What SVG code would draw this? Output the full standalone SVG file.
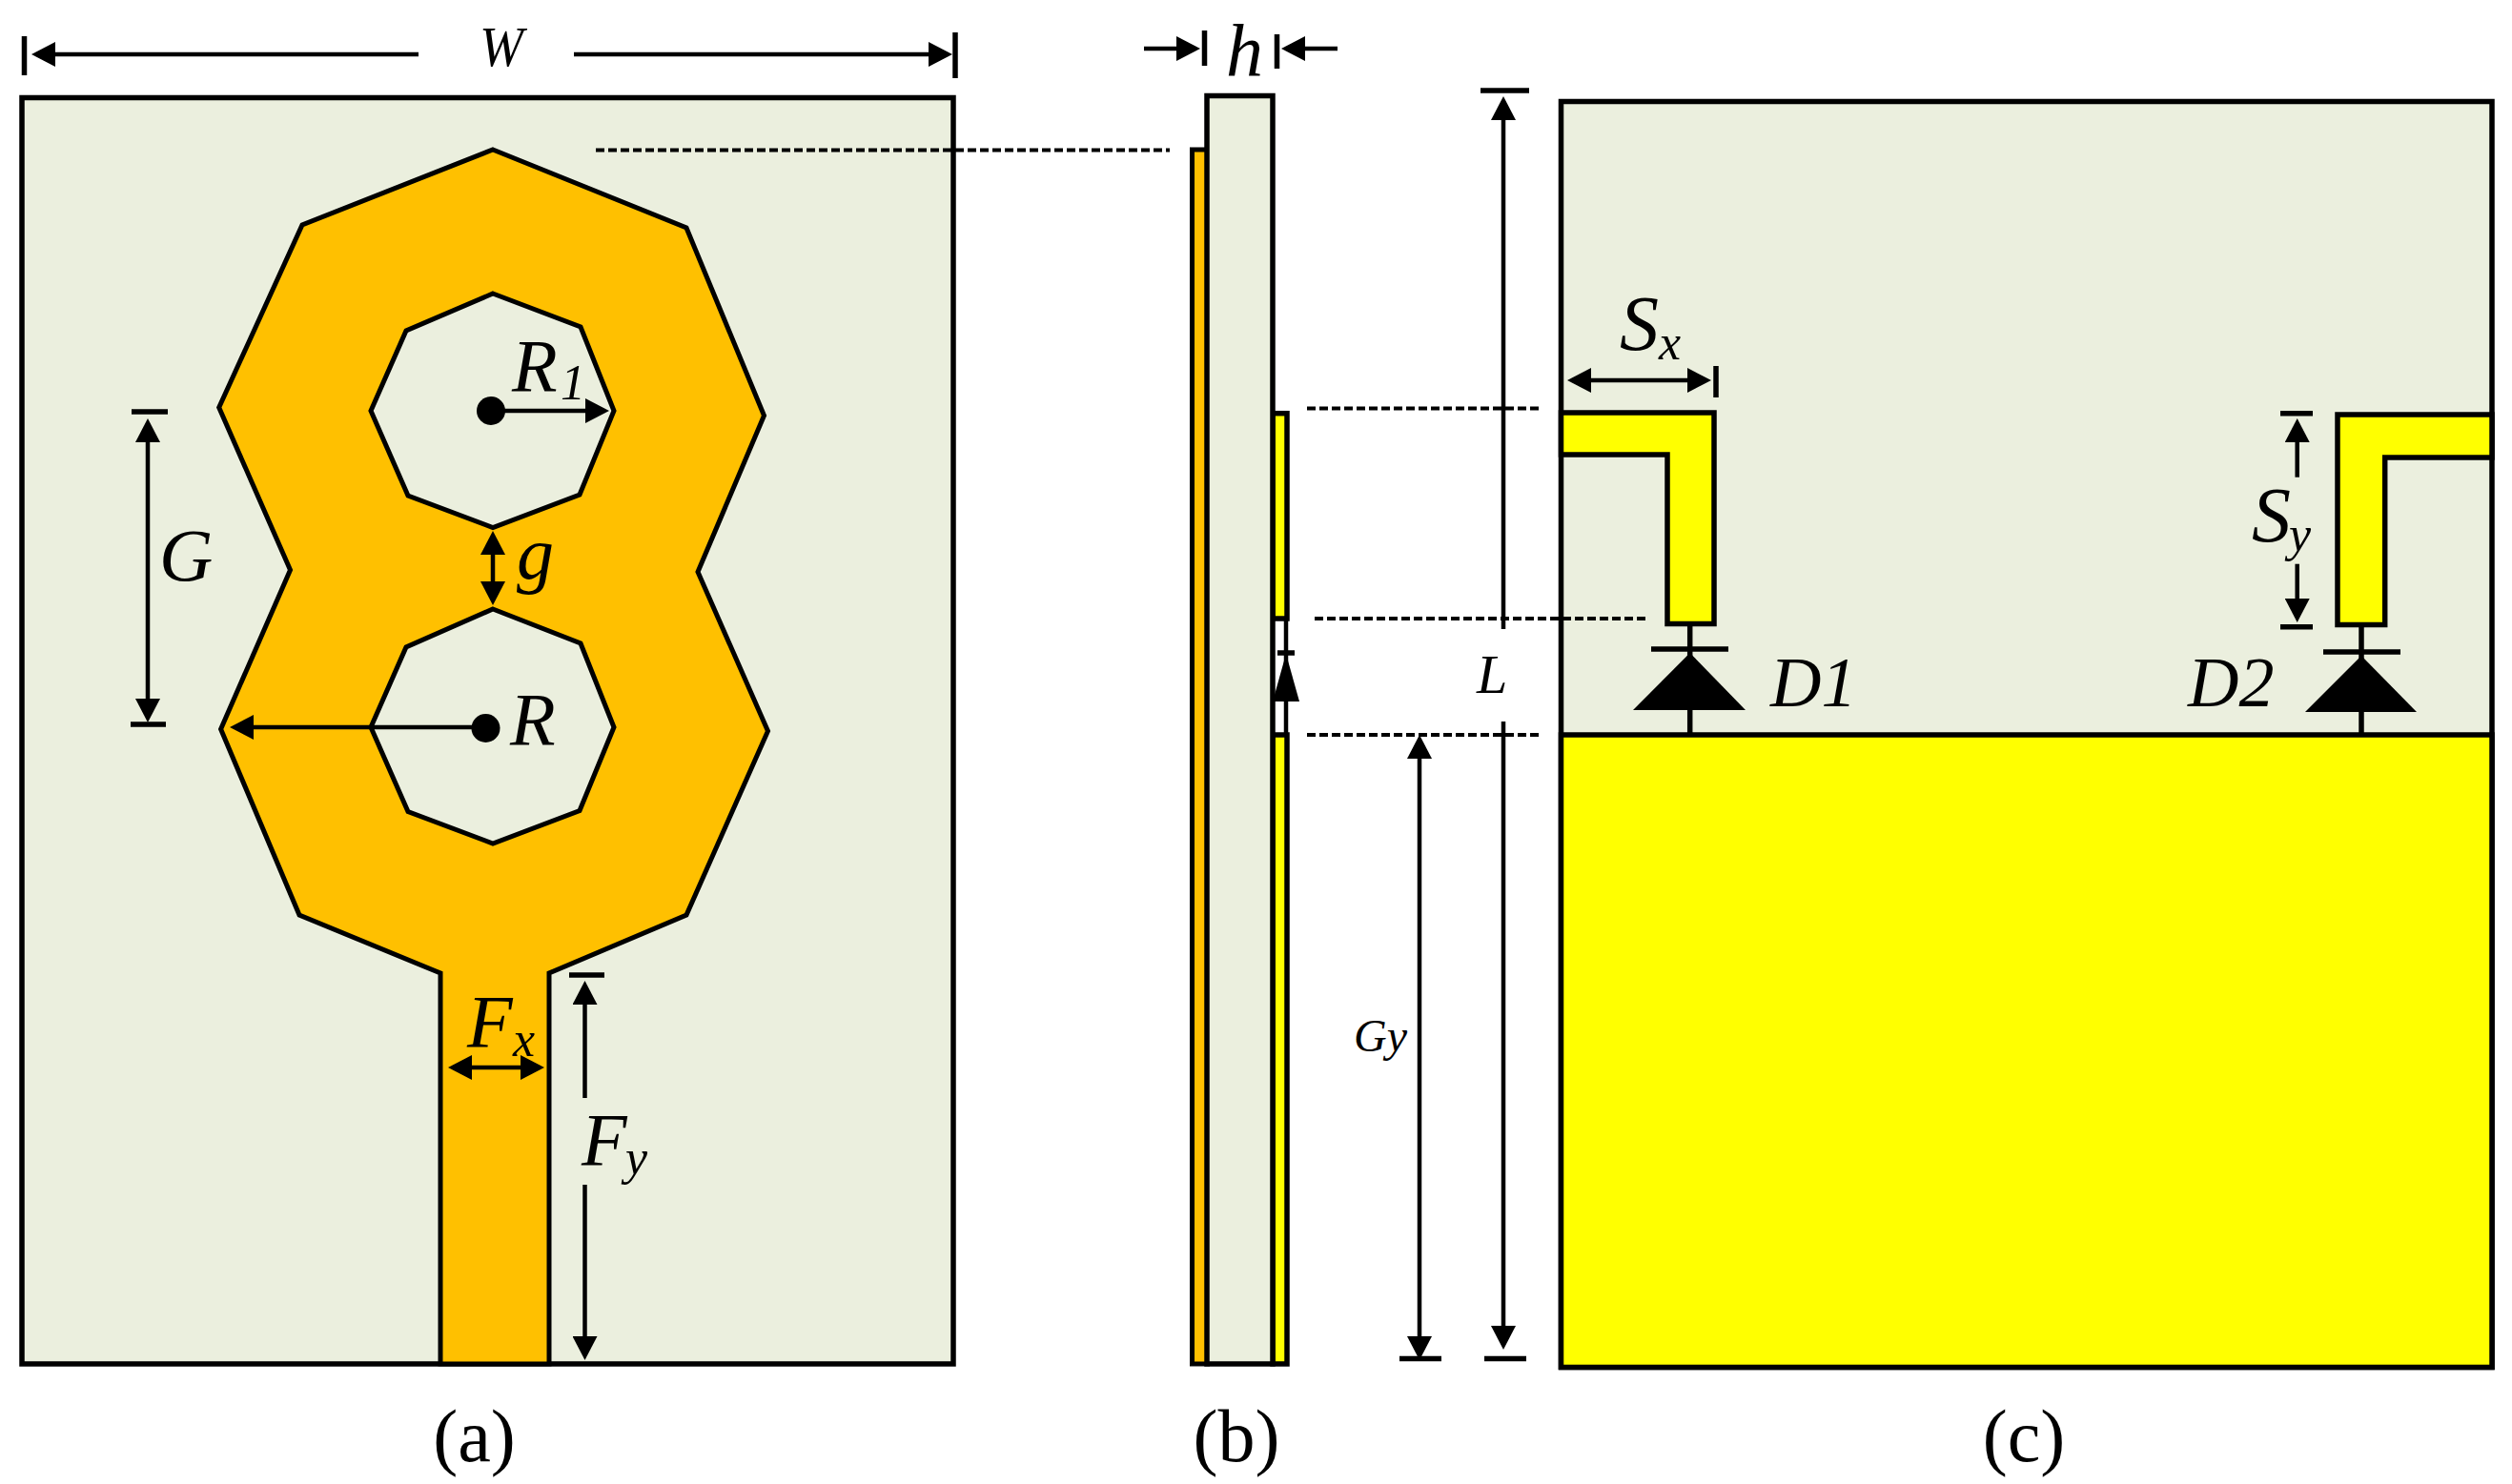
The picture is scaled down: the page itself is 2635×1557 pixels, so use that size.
<svg xmlns="http://www.w3.org/2000/svg" width="2635" height="1557" viewBox="0 0 2635 1557">
<style>
text{font-family:"Liberation Serif","Times New Roman",serif;fill:#000}
.i{font-style:italic}
.b{font-size:78px}
.s{font-size:52px}
.sub{fill:#EBEFDE;stroke:#000;stroke-width:5.500}
.or{fill:#FFC000;stroke:#000;stroke-width:5;stroke-linejoin:miter}
.ye{fill:#FFFF00;stroke:#000;stroke-width:5.500}
.hole{fill:#EBEFDE;stroke:#000;stroke-width:5}
.l{stroke:#000;stroke-width:4.500;fill:none}
.t{stroke:#000;stroke-width:5.500;fill:none}
.d{stroke:#000;stroke-width:4;fill:none;stroke-dasharray:9 4}
.a{marker-end:url(#ah)}
.aa{marker-start:url(#ah);marker-end:url(#ah)}
.as{marker-start:url(#ah)}
</style>
<defs>
<marker id="ah" markerUnits="userSpaceOnUse" markerWidth="25" markerHeight="26" viewBox="0 0 25 26" refX="4" refY="13" orient="auto-start-reverse"><path d="M0 0L25 13L0 26z" fill="#000"/></marker>
</defs>
<rect width="2635" height="1557" fill="#fff"/>

<g id="panel-a">
<rect class="sub" x="23" y="102.500" width="977" height="1328.500"/>
<path class="or" fill-rule="evenodd" d="M517 157L720 239L801.500 436L732 600L805.500 767L720 960L576 1021L576 1431L462 1431L462 1021L314 960L231.600 765L304.500 598L229.700 427.500L317 236Z"/>
<path class="hole" d="M517 308L609 343L644 431L608 519L517 553.500L428 520L389 431L426 347Z"/>
<path class="hole" d="M517 639L609 675L644 763L608 850.500L517 885L428 851.500L389 763L426 679Z"/>
<circle cx="515" cy="431" r="15"/>
<circle cx="509.500" cy="764" r="15"/>
</g>

<g id="panel-b">
<rect class="or" x="1250.500" y="157" width="16" height="1274"/>
<rect class="ye" x="1335" y="433.700" width="15" height="215.300"/>
<rect class="ye" x="1335" y="771" width="15" height="660"/>
<path class="l" d="M1349 649V771"/>
<path class="t" d="M1340 685H1358"/>
<path d="M1349 686L1363 736H1335Z"/>
<rect class="sub" x="1266" y="100.500" width="69" height="1330.500"/>
</g>

<g id="panel-c">
<rect class="sub" x="1637.500" y="106.500" width="976.500" height="1328"/>
<rect class="ye" x="1637.500" y="771" width="976.500" height="663.500"/>
<path class="ye" d="M1637.500 433H1798V654.500H1749V477H1637.500Z"/>
<path class="ye" d="M2614 435H2452V655.500H2501.700V480H2614Z"/>
<g id="diode-1">
<path class="t" d="M1772.700 654V771"/>
<path class="t" d="M1732 681H1813" stroke-width="6"/>
<path d="M1772.700 685L1831 745H1713Z"/>
</g>
<g id="diode-2">
<path class="t" d="M2477 655V771"/>
<path class="t" d="M2437 684H2518" stroke-width="6"/>
<path d="M2477 688L2535 747H2418Z"/>
</g>
</g>

<g id="connectors">
<path class="d" d="M625 157.500H1227"/>
<path class="d" d="M1371 428.600H1615"/>
<path class="d" d="M1379 649H1727"/>
<path class="d" d="M1371 771H1615"/>
<path class="t" d="M25.500 38V79M1002 34V82"/>
<line class="l as" x1="54" y1="57" x2="439" y2="57"/>
<line class="l a" x1="602" y1="57" x2="978" y2="57"/>
<path class="t" d="M138 432H176M137 760H174"/>
<line class="l aa" x1="155" y1="460" x2="155" y2="737"/>
<line class="l a" x1="515" y1="431" x2="618" y2="431"/>
<line class="l a" x1="509" y1="763" x2="262" y2="763"/>
<line class="l aa" x1="517" y1="578" x2="517" y2="614"/>
<line class="l aa" x1="491" y1="1120" x2="550" y2="1120"/>
<path class="t" d="M597 1023H634"/>
<line class="l as" x1="613.500" y1="1050" x2="613.500" y2="1152"/>
<line class="l a" x1="613.500" y1="1243" x2="613.500" y2="1406"/>
<path class="t" d="M1263.500 32V69M1339.500 36V72"/>
<line class="l a" x1="1200" y1="51" x2="1238" y2="51"/>
<line class="l a" x1="1403" y1="51" x2="1365" y2="51"/>
<path class="t" d="M1553 95H1604M1557 1425.500H1601M1468 1425.500H1512"/>
<line class="l as" x1="1577" y1="122" x2="1577" y2="660"/>
<line class="l a" x1="1577" y1="757" x2="1577" y2="1395"/>
<line class="l aa" x1="1489" y1="792" x2="1489" y2="1406"/>
<line class="l aa" x1="1665" y1="399" x2="1774" y2="399"/>
<path class="t" d="M1800 384V417M2392 433.700H2426M2392 657.700H2426"/>
<line class="l as" x1="2409.700" y1="460" x2="2409.700" y2="500.700"/>
<line class="l a" x1="2409.700" y1="591.700" x2="2409.700" y2="632"/>
</g>

<g id="labels">
<text class="i" x="526" y="69" font-size="60" text-anchor="middle" textLength="46" lengthAdjust="spacingAndGlyphs">W</text>
<text class="i b" x="167" y="609">G</text>
<text class="i b" x="537" y="410">R</text>
<text class="i s" x="588" y="419">1</text>
<text class="i b" x="542" y="607">g</text>
<text class="i b" x="535" y="780.500">R</text>
<text class="i b" x="490" y="1098">F</text>
<text class="i s" x="538" y="1108">x</text>
<text class="i b" x="610" y="1221.500">F</text>
<text class="i s" x="656" y="1232">y</text>
<text class="b" x="497.500" y="1533" text-anchor="middle">(a)</text>
<text class="i b" x="1286" y="80">h</text>
<text class="b" x="1297" y="1533" text-anchor="middle">(b)</text>
<text class="i" x="1549" y="727" font-size="58">L</text>
<text class="i" x="1420" y="1103" font-size="48">Gy</text>
<text class="i" x="1699" y="366.500" font-size="82">S</text>
<text class="i s" x="1740" y="377">x</text>
<text class="i" x="1857" y="740.500" font-size="74">D1</text>
<text class="i" x="2295" y="740.500" font-size="74">D2</text>
<text class="i" x="2362" y="568" font-size="82">S</text>
<text class="i s" x="2401" y="578">y</text>
<text class="b" x="2123" y="1533" text-anchor="middle">(c)</text>
</g>
</svg>
